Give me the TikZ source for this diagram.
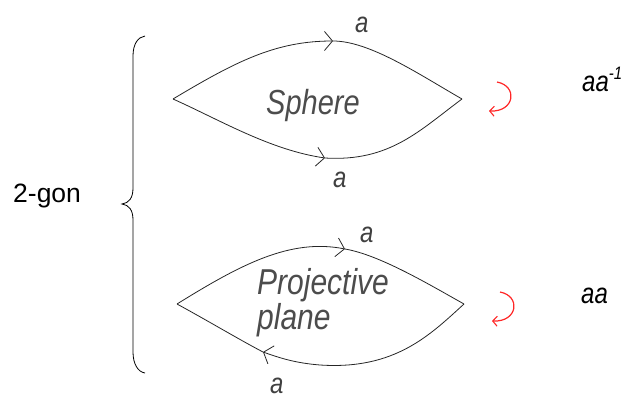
\documentclass[tikz,border=0pt]{standalone}
\usepackage{fontspec}
\setmainfont{Liberation Sans}
\usetikzlibrary{arrows.meta}
\tikzset{
  edge/.style={line width=0.8pt, draw=black!85},
  barb/.style={-{Straight Barb[length=8pt,width=19pt,line width=0.8pt]}},
  curl/.style={line width=1.2pt, draw=red!85!white, -{Straight Barb[length=4.5pt,width=10pt,line width=1.1pt]}},
  lbl/.style={inner sep=0pt, anchor=base west, text=black!75, font=\fontsize{24}{26}\selectfont\itshape},
  big/.style={inner sep=0pt, anchor=base west, text=black!70, font=\fontsize{29}{31}\selectfont\itshape},
  side/.style={inner sep=0pt, anchor=base west, font=\fontsize{24}{26}\selectfont\itshape},
}
\newcommand{\tallify}[1]{\scalebox{1}[1.2]{#1}}
\begin{document}
\begin{tikzpicture}[x=1pt,y=-1pt]
\useasboundingbox (0,0) rectangle (629,398);
% coordinates
\coordinate (sL) at (173,99);
\coordinate (sR) at (462,99);
\coordinate (sT) at (333,41);
\coordinate (sB) at (325,158);
\coordinate (pL) at (177,304);
\coordinate (pR) at (464,304);
\coordinate (pT) at (345,249);
\coordinate (pB) at (263,352);
% sphere lens
\draw[edge,barb] (sL) .. controls (235,62) and (275,41) .. (sT);
\draw[edge] (sT) .. controls (370,41) and (420,75) .. (sR);
\draw[edge,barb] (sL) .. controls (220,120) and (270,150) .. (sB);
\draw[edge] (sB) .. controls (390,162) and (420,130) .. (sR);
% projective plane lens
\draw[edge,barb] (pL) .. controls (240,265) and (290,238) .. (pT);
\draw[edge] (pT) .. controls (380,255) and (430,285) .. (pR);
\draw[edge,barb] (pR) .. controls (430,335) and (395,370) .. (320,365) .. controls (295,363) and (280,358) .. (pB);
\draw[edge] (pB) .. controls (240,340) and (210,322) .. (pL);
% texts
\node[big] (sph) at (266,115) {\tallify{Sphere}};
\node[lbl] (sa1) at (355,33) {\tallify{a}};
\node[lbl] (sa2) at (333,188) {\tallify{a}};
\node[big,font=\fontsize{30}{32}\selectfont\itshape] (pp1) at (257,294) {\tallify{Projective}};
\node[big,font=\fontsize{30}{32}\selectfont\itshape] (pp2) at (257,329) {\tallify{plane}};
\node[lbl] (pa1) at (360,243) {\tallify{a}};
\node[lbl] (pa2) at (270,393) {\tallify{a}};
\node[side] (w1) at (582,92) {\tallify{aa\raisebox{0.45em}{\fontsize{15}{16}\selectfont -1}}};
\node[side] (w2) at (581,303) {\tallify{aa}};
\node[inner sep=0pt, anchor=base west, font=\fontsize{26.5}{28}\selectfont] (gon) at (13,203) {2-gon};
% red curls
\coordinate (c1s) at (497,82);
\coordinate (c1e) at (489,111);
\coordinate (c2s) at (500,292);
\coordinate (c2e) at (492,321);
\draw[curl] (c1s) .. controls (518,86) and (515,112) .. (c1e);
\draw[curl] (c2s) .. controls (521,296) and (518,322) .. (c2e);
% brace
\coordinate (bt) at (145,36);
\coordinate (bb) at (145,373);
\coordinate (bm) at (122,204);
\draw[line width=0.8pt] (bt) .. controls (138,37) and (133,44) .. (133,56) -- (133,188)
  .. controls (133,198) and (129,203) .. (bm)
  .. controls (129,205) and (133,210) .. (133,220) -- (133,352)
  .. controls (133,364) and (138,372) .. (bb);
\end{tikzpicture}
\end{document}
